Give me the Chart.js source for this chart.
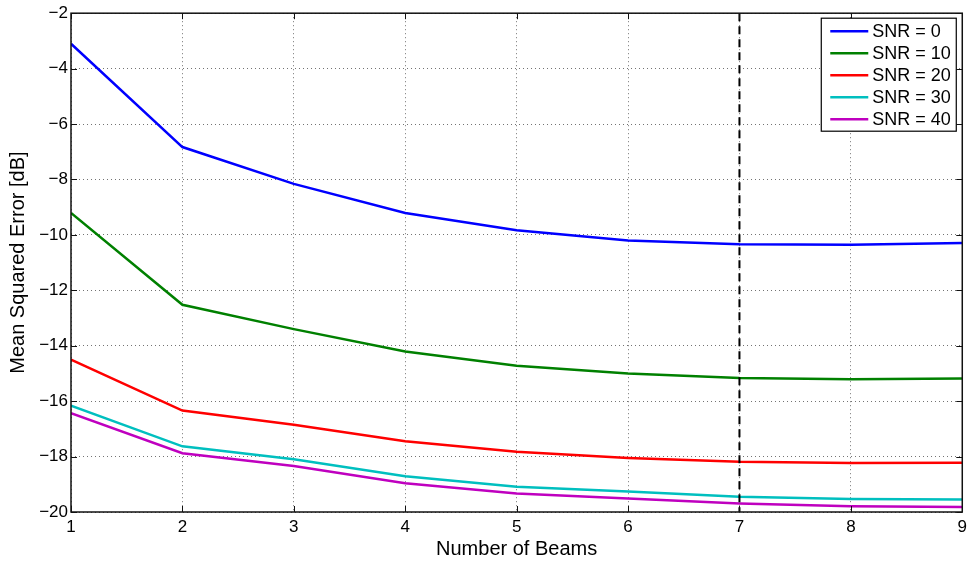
<!DOCTYPE html>
<html>
<head>
<meta charset="utf-8">
<script src="https://cdn.jsdelivr.net/npm/chart.js@4.4.1/dist/chart.umd.min.js"></script>
<style>
  html, body { margin: 0; padding: 0; background: #fff; }
  #wrap { width: 972px; height: 564px; }
</style>
</head>
<body>
<div id="wrap"><canvas id="mseChart" width="972" height="564"></canvas></div>
<script>
const beams = [1, 2, 3, 4, 5, 6, 7, 8, 9];
const snr0  = [-3.10, -6.83, -8.16, -9.21, -9.83, -10.20, -10.34, -10.36, -10.29];
const snr10 = [-9.21, -12.52, -13.40, -14.21, -14.72, -15.00, -15.16, -15.21, -15.18];
const snr20 = [-14.50, -16.34, -16.85, -17.45, -17.83, -18.05, -18.19, -18.23, -18.22];
const snr30 = [-16.16, -17.63, -18.10, -18.71, -19.09, -19.26, -19.45, -19.53, -19.55];
const snr40 = [-16.43, -17.88, -18.34, -18.96, -19.33, -19.51, -19.69, -19.79, -19.82];
const seriesLabels = ["SNR = 0", "SNR = 10", "SNR = 20", "SNR = 30", "SNR = 40"];
const seriesColors = ["#0000ff", "#008000", "#ff0000", "#00bfbf", "#bf00bf"];
const markerBeam = 7;

const FONT = "'Liberation Sans', Arial, Helvetica, sans-serif";

function pts(vals) {
  return vals.map((v, i) => ({ x: beams[i], y: v }));
}

const allSeries = [snr0, snr10, snr20, snr30, snr40];

// MATLAB-like box, inward ticks, dashed marker line and legend
const matlabDecor = {
  id: "matlabDecor",
  afterDatasetsDraw(chart) {
    const { ctx, chartArea: a, scales } = chart;
    const xs = scales.x, ys = scales.y;
    ctx.save();

    // vertical dashed line
    const xm = xs.getPixelForValue(markerBeam);
    ctx.strokeStyle = "#000";
    ctx.lineWidth = 2;
    ctx.setLineDash([8, 5]);
    ctx.beginPath();
    ctx.moveTo(xm, a.top);
    ctx.lineTo(xm, a.bottom);
    ctx.stroke();
    ctx.setLineDash([]);

    // box
    ctx.lineWidth = 1.5;
    ctx.strokeStyle = "#111";
    ctx.strokeRect(a.left, a.top, a.right - a.left, a.bottom - a.top);

    // inward ticks
    const tl = 6;
    ctx.lineWidth = 1;
    ctx.beginPath();
    xs.ticks.forEach(t => {
      const px = Math.round(xs.getPixelForValue(t.value)) + 0.5;
      ctx.moveTo(px, a.bottom); ctx.lineTo(px, a.bottom - tl);
      ctx.moveTo(px, a.top); ctx.lineTo(px, a.top + tl);
    });
    ys.ticks.forEach(t => {
      const py = Math.round(ys.getPixelForValue(t.value)) + 0.5;
      ctx.moveTo(a.left, py); ctx.lineTo(a.left + tl, py);
      ctx.moveTo(a.right, py); ctx.lineTo(a.right - tl, py);
    });
    ctx.stroke();

    // legend
    const ds = chart.data.datasets;
    const rowH = 22;
    const boxW = 135, boxH = rowH * ds.length + 3;
    const bx = a.right - 6 - boxW, by = a.top + 5;
    ctx.fillStyle = "#fff";
    ctx.fillRect(bx, by, boxW, boxH);
    ctx.strokeStyle = "#000";
    ctx.lineWidth = 1.2;
    ctx.strokeRect(bx, by, boxW, boxH);
    ctx.font = "18px " + FONT;
    ctx.textBaseline = "middle";
    ctx.textAlign = "left";
    ds.forEach((d, i) => {
      const cy = by + 13 + i * rowH;
      ctx.strokeStyle = d.borderColor;
      ctx.lineWidth = 2.5;
      ctx.beginPath();
      ctx.moveTo(bx + 9, cy);
      ctx.lineTo(bx + 47, cy);
      ctx.stroke();
      ctx.fillStyle = "#000";
      ctx.fillText(d.label, bx + 51, cy + 1);
    });
    ctx.restore();
  }
};

const minus = v => String(v).replace("-", "\u2212");

new Chart(document.getElementById("mseChart").getContext("2d"), {
  type: "line",
  data: {
    datasets: allSeries.map((s, i) => ({
      label: seriesLabels[i],
      data: pts(s),
      borderColor: seriesColors[i],
      backgroundColor: seriesColors[i],
      borderWidth: 2.5,
      pointRadius: 0,
      tension: 0,
      fill: false
    }))
  },
  options: {
    responsive: false,
    animation: false,
    layout: { padding: { top: 11, right: 9, left: 0, bottom: 0 } },
    plugins: {
      legend: { display: false },
      tooltip: { enabled: false }
    },
    scales: {
      x: {
        type: "linear",
        min: 1,
        max: 9,
        afterFit: s => { s.height = 52; },
        ticks: {
          stepSize: 1,
          color: "#000",
          padding: 5,
          font: { family: FONT, size: 17 },
          callback: v => minus(v)
        },
        grid: { color: "rgba(0,0,0,0.55)", lineWidth: 1, drawTicks: false },
        border: { display: false, dash: [1, 3] },
        title: {
          display: true,
          text: "Number of Beams",
          color: "#000",
          font: { family: FONT, size: 20 },
          padding: { top: 0, bottom: 3 }
        }
      },
      y: {
        min: -20,
        max: -2,
        afterFit: s => { s.width = 71; },
        ticks: {
          stepSize: 2,
          color: "#000",
          padding: 3,
          font: { family: FONT, size: 17 },
          callback: v => minus(v)
        },
        grid: { color: "rgba(0,0,0,0.55)", lineWidth: 1, drawTicks: false },
        border: { display: false, dash: [1, 3] },
        title: {
          display: true,
          text: "Mean Squared Error [dB]",
          color: "#000",
          font: { family: FONT, size: 20 },
          padding: { top: 6, bottom: 0 }
        }
      }
    }
  },
  plugins: [matlabDecor]
});
</script>
</body>
</html>
